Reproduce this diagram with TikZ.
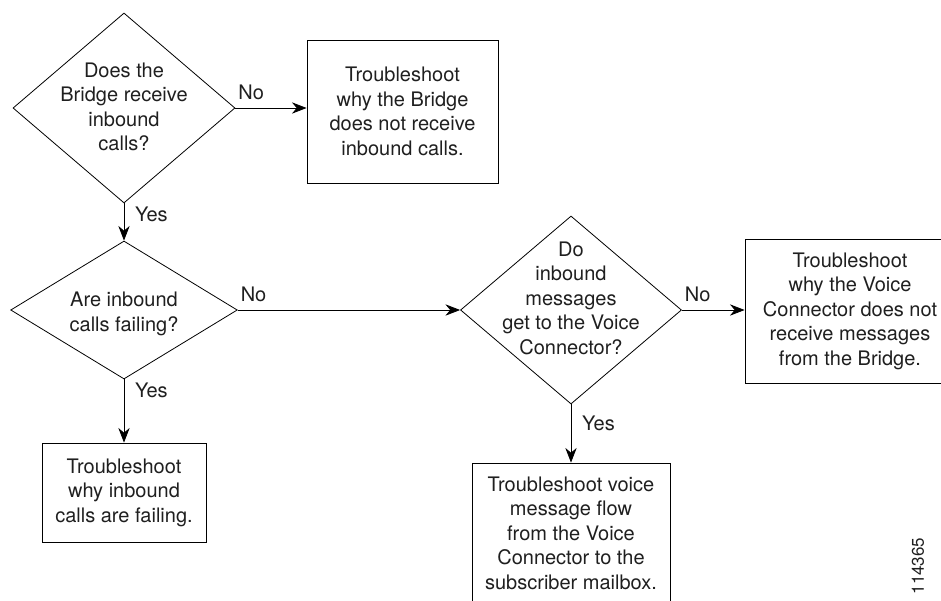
\documentclass[tikz,border=0pt]{standalone}
\usepackage{fontspec}
\setmainfont{TeX Gyre Heros}
\usetikzlibrary{shapes.geometric,arrows.meta}

\begin{document}
\begin{tikzpicture}[x=0.75pt,y=-0.75pt,
    every node/.style={font=\fontsize{15}{18.4}\selectfont,align=center,text=black!88},
    decision/.style={draw,diamond,aspect=1,inner sep=0pt,line width=0.6pt},
    action/.style={draw,rectangle,inner sep=0pt,line width=0.6pt},
    flow/.style={-{Stealth[length=11pt,width=8.5pt]},line width=0.6pt},
    answer/.style={inner sep=2pt}]
        \useasboundingbox (0,0) rectangle (941,600);
        \node[decision,minimum width=166.5pt,minimum height=142.5pt] (q1) at (124,108) {};
        \node (q1t) at (124,107) {Does the\\Bridge receive\\inbound\\calls?};
        \node[decision,minimum width=170pt,minimum height=103.5pt] (q2) at (124,310) {};
        \node (q2t) at (124,314) {Are inbound\\calls failing?};
        \node[decision,minimum width=165.75pt,minimum height=141pt] (q3) at (571,310) {};
        \node (q3t) at (571,298) {Do\\inbound\\messages\\get to the Voice\\Connector?};
        \node[action,minimum width=143.25pt,minimum height=107.25pt] (b1) at (402.5,111.5) {Troubleshoot\\why the Bridge\\does not receive\\inbound calls.};
        \node[action,minimum width=123pt,minimum height=74.25pt] (b2) at (124,492.5) {Troubleshoot\\why inbound\\calls are failing.};
        \node[action,minimum width=157.5pt,minimum height=108pt] (b3) at (850,311) {Troubleshoot\\why the Voice\\Connector does not\\receive messages\\from the Bridge.};
        \node[action,minimum width=148.5pt,minimum height=105pt] (b4) at (571,533) {Troubleshoot voice\\message flow\\from the Voice\\Connector to the\\subscriber mailbox.};
        \node[rotate=90,font=\fontsize{12.75}{14}\selectfont] (fig) at (918,566) {114365};
        \draw[flow] (q1.east) -- node[answer,at start,anchor=south west,yshift=4pt] (n1) {No} (q1.east -| b1.west);
        \draw[flow] (q1.south) -- node[answer,at start,anchor=north west,xshift=6pt] (y1) {Yes} (q2.north);
        \draw[flow] (q2.east) -- node[answer,at start,anchor=south west,yshift=4pt] (n2) {No} (q3.west);
        \draw[flow] (q2.south) -- node[answer,at start,anchor=north west,xshift=6pt] (y2) {Yes} (b2.north);
        \draw[flow] (q3.east) -- node[answer,at start,anchor=south west,yshift=4pt] (n3) {No} (q3.east -| b3.west);
        \draw[flow] (q3.south) -- node[answer,at start,anchor=north west,xshift=6pt,yshift=-6pt] (y3) {Yes} (b4.north);
      \end{tikzpicture}
\end{document}
